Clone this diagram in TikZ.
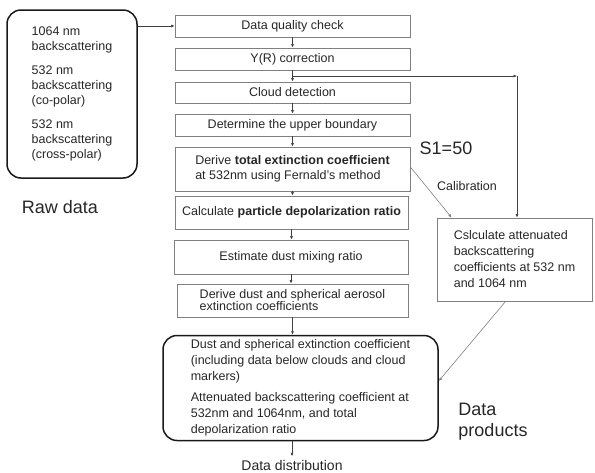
\documentclass[tikz,border=0pt]{standalone}
\usepackage{fontspec}
\setmainfont{Liberation Sans}
\usetikzlibrary{arrows.meta,calc}

\begin{document}
\begin{tikzpicture}[
  x=1pt, y=-1pt,
  box/.style={draw=black!50, line width=0.8pt, align=left, inner sep=2pt, text=black!85,
    font=\fontsize{12.5}{14}\selectfont},
  roundbox/.style={draw=black!90, line width=1.5pt, rounded corners=14pt, align=left, text=black!85},
  arrow/.style={-{Latex[length=3.5pt,width=3pt]}, line width=0.6pt, draw=black!75},
  gline/.style={-{Latex[length=3.5pt,width=3pt]}, line width=0.6pt, draw=black!50},
  biglabel/.style={font=\fontsize{18}{21}\selectfont, text=black!85, align=left}
]
\useasboundingbox (0,0) rectangle (595,472);

\node[roundbox, minimum width=130pt, minimum height=168pt,
  font=\fontsize{12.5}{15}\selectfont] (raw) at (72,94) {
1064 nm\\
backscattering\\[9pt]
532 nm\\
backscattering\\
(co-polar)\\[9pt]
532 nm\\
backscattering\\
(cross-polar)
};
\node[biglabel] (rawlabel) at (60,207) {Raw data};

\node[box, minimum width=235pt, minimum height=22pt] (quality) at (292.5,26) {Data quality check};
\node[box, minimum width=235pt, minimum height=22pt] (yrcorr) at (292.5,59) {Y(R) correction};
\node[box, minimum width=235pt, minimum height=21pt] (cloud) at (292.5,92.5) {Cloud detection};
\node[box, minimum width=235pt, minimum height=22pt] (upper) at (292.5,125) {Determine the upper boundary};
\node[box, minimum width=235pt, minimum height=44pt, font=\fontsize{12.5}{15}\selectfont] (totext) at (292.5,169) {
Derive \textbf{total extinction coefficient}\\
at 532nm using Fernald's method
};
\node[box, minimum width=233pt, minimum height=33pt] (depol) at (291.5,212.5) {Calculate \textbf{particle depolarization ratio}};
\node[box, minimum width=234pt, minimum height=34pt] (mixing) at (291,257) {Estimate dust mixing ratio};
\node[box, minimum width=231pt, minimum height=33pt, font=\fontsize{12.5}{12}\selectfont] (dustext) at (292.5,300.5) {
Derive dust and spherical aerosol\\
extinction coefficients
};

\node[roundbox, minimum width=275pt, minimum height=105pt,
  font=\fontsize{12.5}{16}\selectfont] (products) at (300.5,388) {
Dust and spherical extinction coefficient\\
(including data below clouds and cloud\\
markers)\\[5pt]
Attenuated backscattering coefficient at\\
532nm and 1064nm, and total\\
depolarization ratio
};
\node[font=\fontsize{14}{16}\selectfont, text=black!85] (distrib) at (292,465) {Data distribution};
\node[biglabel] (prodlabel) at (493,422) {Data\\products};

\node[box, minimum width=155pt, minimum height=83pt, font=\fontsize{12.5}{16}\selectfont] (attbs) at (514.5,259.5) {
Cslculate attenuated\\
backscattering\\
coefficients at 532 nm\\
and 1064 nm
};
\node[biglabel] (s1) at (446,148) {S1=50};
\node[font=\fontsize{12.5}{14}\selectfont, text=black!85] (calib) at (467,186) {Calibration};

\draw[arrow] (raw.east |- quality.west) -- (quality.west);
\foreach \a/\b in {quality/yrcorr, yrcorr/cloud, cloud/upper, upper/totext, totext/depol,
  depol/mixing, mixing/dustext, dustext/products}
  \draw[arrow] (\a.south) -- (\a.south |- \b.north);
\draw[arrow] (distrib.north |- products.south) -- (distrib.north);

\coordinate (split) at (quality.south |- 0,76);
\coordinate (corner) at (517,76);
\draw[arrow] (split) -- (corner);
\draw[arrow] (corner) -- (corner |- attbs.north);

\draw[gline] ($(totext.east)+(0,-2)$) -- ($(attbs.north west)+(15,0)$);
\draw[gline] ($(attbs.south west)+(69,0)$) -- ($(products.east)+(0,-7)$);
\end{tikzpicture}
\end{document}
